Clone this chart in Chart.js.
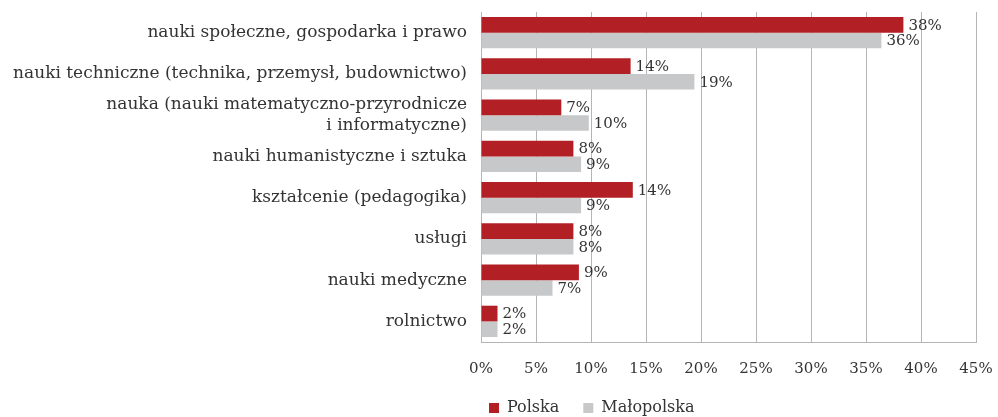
<!DOCTYPE html>
<html>
<head>
<meta charset="utf-8">
<script src="https://cdn.jsdelivr.net/npm/chart.js@4"></script>
<style>
  html, body { margin: 0; padding: 0; background: #fff; }
  #wrap { width: 998px; height: 417px; }
</style>
</head>
<body>
<div id="wrap"><canvas id="chart"></canvas></div>
<script>
// Chart data
const categories = [
    'nauki społeczne, gospodarka i prawo',
    'nauki techniczne (technika, przemysł, budownictwo)',
    ['nauka (nauki matematyczno-przyrodnicze', 'i informatyczne)'],
    'nauki humanistyczne i sztuka',
    'kształcenie (pedagogika)',
    'usługi',
    'nauki medyczne',
    'rolnictwo'
];
const polska = [38.4, 13.6, 7.3, 8.4, 13.8, 8.4, 8.9, 1.5];
const malopolska = [36.4, 19.4, 9.8, 9.1, 9.1, 8.4, 6.5, 1.5];
const seriesNames = ['Polska', 'Małopolska'];
const xTicks = [0, 5, 10, 15, 20, 25, 30, 35, 40, 45];

const FONT = 'DejaVu Serif';
const TEXT = '#333333';

// value labels next to each bar
const valueLabels = {
    id: 'valueLabels',
    afterDatasetsDraw(chart) {
        const ctx = chart.ctx;
        ctx.save();
        ctx.font = '15px "' + FONT + '"';
        ctx.fillStyle = TEXT;
        ctx.textAlign = 'left';
        ctx.textBaseline = 'middle';
        chart.data.datasets.forEach((ds, i) => {
            const meta = chart.getDatasetMeta(i);
            meta.data.forEach((bar, j) => {
                ctx.fillText(Math.round(ds.data[j]) + '%', bar.x + 5, bar.y + 1);
            });
        });
        ctx.restore();
    }
};

new Chart(document.getElementById('chart'), {
    type: 'bar',
    data: {
        labels: categories,
        datasets: [
            {
                label: seriesNames[0],
                data: polska,
                backgroundColor: '#b21f24',
                categoryPercentage: 0.76,
                barPercentage: 1.0
            },
            {
                label: seriesNames[1],
                data: malopolska,
                backgroundColor: '#c7c8ca',
                categoryPercentage: 0.76,
                barPercentage: 1.0
            }
        ]
    },
    options: {
        indexAxis: 'y',
        responsive: true,
        maintainAspectRatio: false,
        animation: false,
        layout: { padding: { left: 8, right: 22, top: 12, bottom: -9 } },
        plugins: {
            tooltip: { enabled: false },
            legend: {
                position: 'bottom',
                align: 'start',
                fullSize: false,
                labels: {
                    font: { family: FONT, size: 16 },
                    color: TEXT,
                    boxWidth: 10,
                    boxHeight: 10,
                    padding: 8,
                    generateLabels(chart) {
                        const items = Chart.defaults.plugins.legend.labels.generateLabels(chart);
                        items.forEach((it, i) => {
                            if (i < items.length - 1) it.text = it.text + '\u2003';
                        });
                        return items;
                    }
                }
            }
        },
        scales: {
            x: {
                min: 0,
                max: 45,
                afterBuildTicks(scale) {
                    scale.ticks = xTicks.map(v => ({ value: v }));
                },
                afterFit(scale) {
                    scale.height = 50;
                    scale.paddingRight = 0;
                    scale.paddingLeft = 0;
                },
                ticks: {
                    callback: v => v + '%',
                    font: { family: FONT, size: 15 },
                    color: TEXT,
                    padding: 18,
                    maxRotation: 0
                },
                grid: { color: '#b5b5b5', drawTicks: false },
                border: { color: '#b5b5b5' }
            },
            y: {
                afterFit(scale) {
                    scale.width = 473;
                    scale.paddingTop = 0;
                    scale.paddingBottom = 0;
                },
                ticks: {
                    font: { family: FONT, size: 17 },
                    color: TEXT,
                    padding: 14,
                    autoSkip: false
                },
                grid: { display: false, drawTicks: false },
                border: { color: '#b5b5b5' }
            }
        }
    },
    plugins: [valueLabels]
});
</script>
</body>
</html>
